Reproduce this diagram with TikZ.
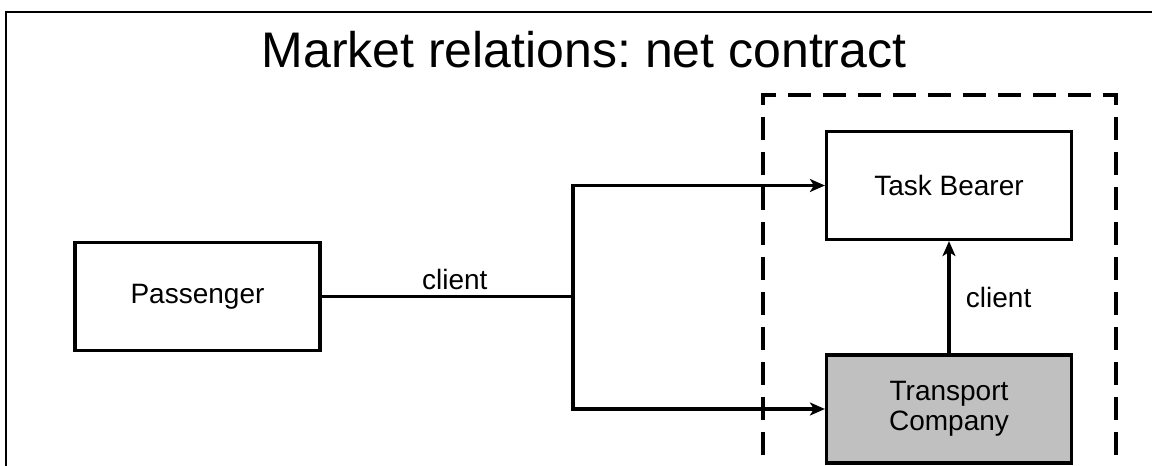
\documentclass[tikz,border=0pt]{standalone}
\usepackage{fontspec}
\setmainfont{Liberation Sans}
\usetikzlibrary{arrows.meta}
\frenchspacing
\begin{document}
\begin{tikzpicture}[x=1pt,y=-1pt,
  box/.style={draw, line width=3.2pt, minimum width=245pt, minimum height=108pt, inner sep=0pt,
    font=\fontsize{28}{30}\selectfont, align=center},
  conn/.style={line width=3.2pt},
  tip/.style={-{Stealth[length=15pt,width=13pt,inset=4pt]}},
  lbl/.style={font=\fontsize{28}{30}\selectfont}]
\useasboundingbox (0,0) rectangle (1152,466);
\draw[line width=2pt] (6,490) -- (6,12) -- (1170,12);
\draw[line width=3.2pt, dash pattern=on 23pt off 12pt] (763,490) -- (763,95) -- (1116,95) -- (1116,490);
\node[anchor=base, font=\fontsize{50}{60}\selectfont] (title) at (584,67.5) {Market relations: net contract};
\node[box] (pass) at (197.5,296.5) {Passenger};
\node[box] (tb) at (949,185.5) {Task Bearer};
\node[box, fill={rgb,255:red,192;green,192;blue,192}] (tc) at (949,409) {Transport\\Company};
\coordinate (j) at (573,296.5);
\draw[conn] (pass.east) -- (j) node[lbl, pos=0.53, above=2pt] (l1) {client};
\draw[conn, tip] (j) |- (tb.west);
\draw[conn, tip] (j) |- (tc.west);
\draw[conn, tip] (tc.north) -- (tb.south) node[lbl, midway, right=12pt] (l2) {client};
\end{tikzpicture}
\end{document}
